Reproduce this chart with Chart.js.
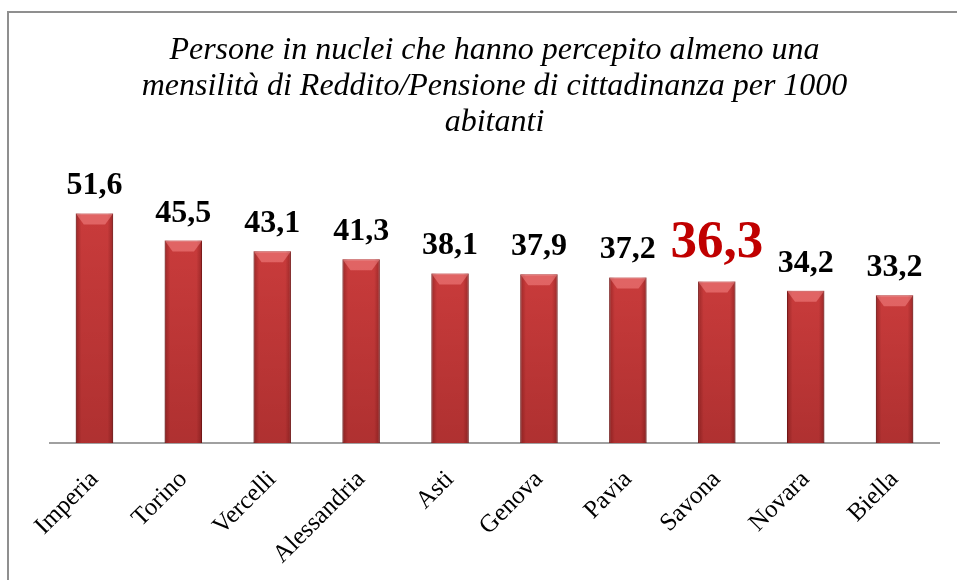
<!DOCTYPE html>
<html>
<head>
<meta charset="utf-8">
<script src="https://cdn.jsdelivr.net/npm/chart.js@4"></script>
<style>
    body { margin: 0; background: #ffffff; }
    #cornice {
        position: absolute; left: 7px; top: 11px; width: 960px; height: 580px;
        border-top: 2px solid #8f8f8f; border-left: 2px solid #8f8f8f;
    }
    #grafico { position: absolute; left: 0; top: 0; }
</style>
</head>
<body>
<div id="cornice"></div>
<canvas id="grafico" width="957" height="580"></canvas>
<script>
const province = ['Imperia', 'Torino', 'Vercelli', 'Alessandria', 'Asti', 'Genova', 'Pavia', 'Savona', 'Novara', 'Biella'];
const valori = [51.6, 45.5, 43.1, 41.3, 38.1, 37.9, 37.2, 36.3, 34.2, 33.2];
const evidenziata = 'Savona';
const titolo = [
    'Persone in nuclei che hanno percepito almeno una',
    'mensilità di Reddito/Pensione di cittadinanza per 1000',
    'abitanti'
];

// etichette sopra le barre (virgola decimale)
const etichette = {
    id: 'etichette',
    afterDatasetsDraw(chart) {
        const ctx = chart.ctx;
        const meta = chart.getDatasetMeta(0);
        ctx.save();
        ctx.textAlign = 'center';
        ctx.textBaseline = 'alphabetic';
        meta.data.forEach((barra, i) => {
            const testo = valori[i].toFixed(1).replace('.', ',');
            if (province[i] === evidenziata) {
                ctx.font = 'bold 53px "Liberation Serif"';
                ctx.fillStyle = '#c00000';
                ctx.fillText(testo, barra.x, barra.y - 24);
            } else {
                ctx.font = 'bold 32px "Liberation Serif"';
                ctx.fillStyle = '#000000';
                ctx.fillText(testo, barra.x, barra.y - 19);
            }
        });
        ctx.restore();
    }
};

// ombreggiatura laterale e smusso in cima a ogni barra
const rilievo = {
    id: 'rilievo',
    afterDatasetsDraw(chart) {
        const ctx = chart.ctx;
        const meta = chart.getDatasetMeta(0);
        ctx.save();
        meta.data.forEach((barra) => {
            const sx = barra.x - barra.width / 2;
            const dx = barra.x + barra.width / 2;
            const alto = barra.y;
            const basso = barra.base;

            const lati = ctx.createLinearGradient(sx, 0, dx, 0);
            lati.addColorStop(0, 'rgba(60,0,0,0.35)');
            lati.addColorStop(0.15, 'rgba(60,0,0,0.05)');
            lati.addColorStop(0.85, 'rgba(60,0,0,0.05)');
            lati.addColorStop(1, 'rgba(60,0,0,0.35)');
            ctx.fillStyle = lati;
            ctx.fillRect(sx, alto, barra.width, basso - alto);

            const fondo = ctx.createLinearGradient(0, alto, 0, basso);
            fondo.addColorStop(0, 'rgba(60,0,0,0)');
            fondo.addColorStop(1, 'rgba(60,0,0,0.18)');
            ctx.fillStyle = fondo;
            ctx.fillRect(sx, alto, barra.width, basso - alto);

            ctx.beginPath();
            ctx.moveTo(sx, alto);
            ctx.lineTo(dx, alto);
            ctx.lineTo(dx - 8, alto + 11);
            ctx.lineTo(sx + 8, alto + 11);
            ctx.closePath();
            ctx.fillStyle = 'rgba(255,150,150,0.45)';
            ctx.fill();
        });
        ctx.restore();
    }
};

const ctx = document.getElementById('grafico').getContext('2d');
const grafico = new Chart(ctx, {
    type: 'bar',
    data: {
        labels: province,
        datasets: [{
            data: valori,
            backgroundColor: '#d03e3e',
            borderColor: '#9a2626',
            borderWidth: 1,
            barPercentage: 0.42,
            categoryPercentage: 1
        }]
    },
    plugins: [rilievo, etichette],
    options: {
        responsive: false,
        animation: false,
        layout: { padding: { left: 50, right: 18, top: 0, bottom: 0 } },
        scales: {
            y: { display: false, min: 0, max: 60 },
            x: {
                grid: { display: false },
                border: { display: true, color: '#a0a0a0', width: 2 },
                ticks: {
                    color: '#000000',
                    font: { family: 'Liberation Serif', size: 25 },
                    maxRotation: 45,
                    minRotation: 45,
                    padding: 14
                },
                afterFit: (scala) => { scala.height = 137; }
            }
        },
        plugins: {
            legend: { display: false },
            tooltip: { enabled: false },
            title: {
                display: true,
                text: titolo,
                fullSize: false,
                color: '#000000',
                font: { family: 'Liberation Serif', size: 32, style: 'italic', weight: 'normal', lineHeight: 1.125 },
                padding: { top: 33, bottom: 35 }
            }
        }
    }
});
</script>
</body>
</html>
